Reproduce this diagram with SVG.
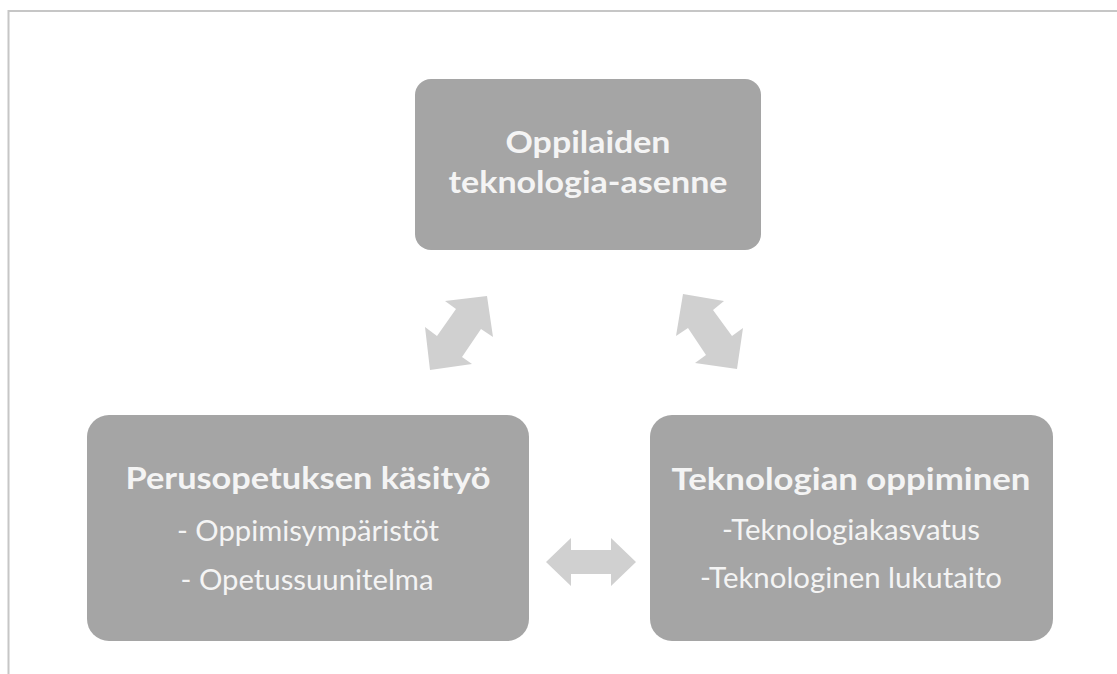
<svg xmlns="http://www.w3.org/2000/svg" width="1117" height="674" viewBox="0 0 1117 674">
<style>
.box{fill:#a5a5a5}
.arrow{fill:#d0d0d0}
.frame{stroke:#c6c6c6;stroke-width:2;fill:none}
.t{font-family:Lato,"Open Sans","Liberation Sans",sans-serif;fill:#f4f4f4;text-anchor:middle}
.b{font-weight:bold;font-size:30px}
.r{font-size:29px}
</style>
<rect x="0" y="0" width="1117" height="674" fill="#ffffff"/>
<path class="frame" d="M8.5 674 V11 H1117"/>
<g id="connectors">
<polygon class="arrow" points="487,296 445,301 456,309 437,336 425,327 430,370 472,364 462,357 481,329 493,337"/>
<polygon class="arrow" points="683,294 724,301 713,310 732,336 743,328 737,369 695,363 706,355 688,328 676,336"/>
<polygon class="arrow" points="546,562 571,538 571,550 611,550 611,538 636,562 611,586 611,574 571,574 571,586"/>
</g>
<g id="node-top">
<rect class="box" x="415" y="79" width="346" height="171" rx="16"/>
<text class="t b" x="588" y="153" textLength="165" lengthAdjust="spacingAndGlyphs">Oppilaiden</text>
<text class="t b" x="588" y="193" textLength="279" lengthAdjust="spacingAndGlyphs">teknologia-asenne</text>
</g>
<g id="node-left">
<rect class="box" x="87" y="415" width="442" height="226" rx="22"/>
<text class="t b" x="308" y="489" textLength="365" lengthAdjust="spacingAndGlyphs">Perusopetuksen käsityö</text>
<text class="t r" x="308" y="541" textLength="262" lengthAdjust="spacingAndGlyphs">- Oppimisympäristöt</text>
<text class="t r" x="307" y="590" textLength="253" lengthAdjust="spacingAndGlyphs">- Opetussuunitelma</text>
</g>
<g id="node-right">
<rect class="box" x="650" y="415" width="403" height="226" rx="22"/>
<text class="t b" x="851" y="490" textLength="359" lengthAdjust="spacingAndGlyphs">Teknologian oppiminen</text>
<text class="t r" x="851" y="540" textLength="258" lengthAdjust="spacingAndGlyphs">-Teknologiakasvatus</text>
<text class="t r" x="851" y="588" textLength="302" lengthAdjust="spacingAndGlyphs">-Teknologinen lukutaito</text>
</g>
</svg>
